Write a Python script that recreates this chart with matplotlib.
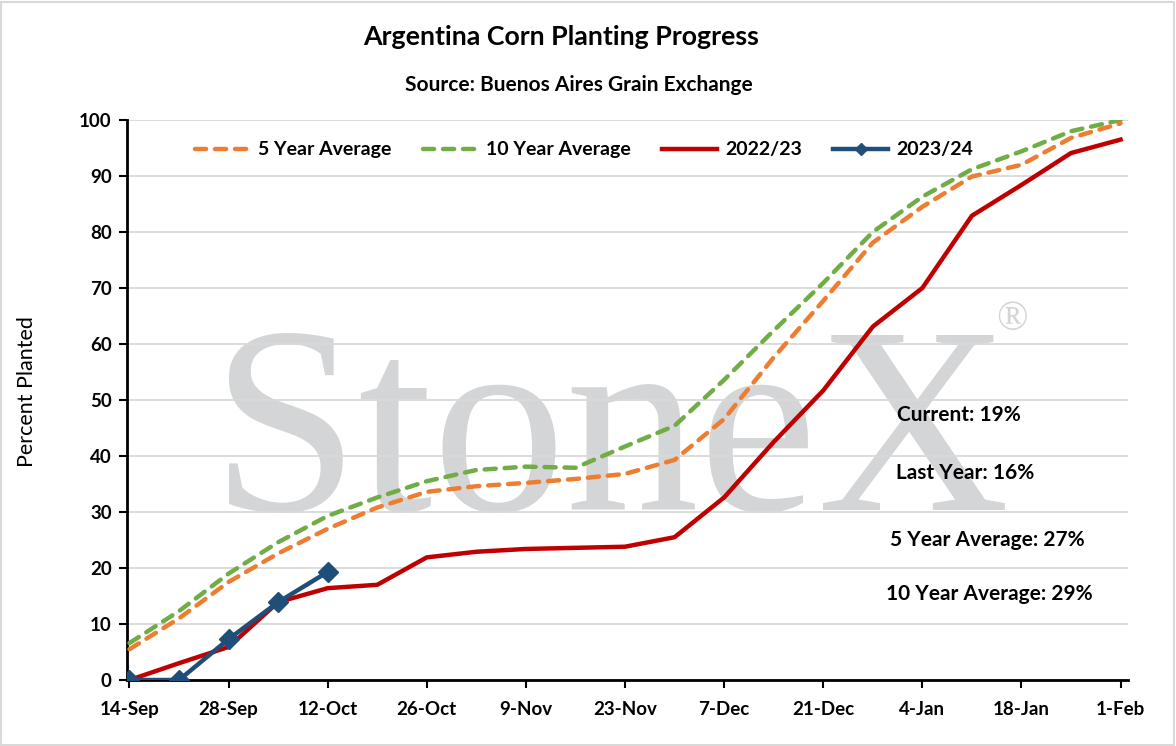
import matplotlib
matplotlib.use("Agg")
import matplotlib.pyplot as plt
from matplotlib.lines import Line2D
from matplotlib.patches import Rectangle

weeks = ["14-Sep", "21-Sep", "28-Sep", "5-Oct", "12-Oct", "19-Oct", "26-Oct", "2-Nov",
         "9-Nov", "16-Nov", "23-Nov", "30-Nov", "7-Dec", "14-Dec", "21-Dec", "28-Dec",
         "4-Jan", "11-Jan", "18-Jan", "25-Jan", "1-Feb"]
avg5 = [5.5, 11.0, 17.5, 22.6, 27.0, 30.8, 33.6, 34.6, 35.2, 35.9, 36.8, 39.3,
        46.6, 57.6, 67.7, 78.1, 84.5, 89.9, 92.0, 96.8, 99.4]
avg10 = [6.6, 12.3, 19.0, 24.6, 29.3, 32.6, 35.5, 37.5, 38.1, 37.9, 41.7, 45.4,
         53.6, 62.4, 70.9, 80.0, 86.3, 91.2, 94.4, 98.0, 100.0]
y2022 = [0.0, 3.0, 5.9, 13.9, 16.4, 17.0, 21.9, 22.9, 23.4, 23.6, 23.8, 25.5,
         32.6, 42.5, 51.7, 63.1, 70.0, 82.9, 88.4, 94.1, 96.5]
y2023 = [0.0, 0.0, 7.3, 13.9, 19.3]
tick_labels = ["14-Sep", "28-Sep", "12-Oct", "26-Oct", "9-Nov", "23-Nov", "7-Dec",
               "21-Dec", "4-Jan", "18-Jan", "1-Feb"]
series_names = ["5 Year Average", "10 Year Average", "2022/23", "2023/24"]
notes = ["Current: 19%", "Last Year: 16%", "5 Year Average: 27%", "10 Year Average: 29%"]

W, H = 1176, 746
fig = plt.figure(figsize=(W / 100, H / 100), dpi=100)
fig.patches.append(Rectangle((1 / W, 1 / H), 1 - 3 / W, 1 - 3 / H, transform=fig.transFigure,
                             fill=False, edgecolor="#d9d9d9", linewidth=1.5))

L, R, T, B = 127, 1128, 120, 680
ax = fig.add_axes([L / W, 1 - B / H, (R - L) / W, (B - T) / H])

x = list(range(len(weeks)))
x23 = x[:len(y2023)]

c5, c10, c22, c23 = "#ed7d31", "#70ad47", "#c00000", "#1f4e79"
LW = 3.2
dash = (0, (2.5, 2.0))
ax.plot(x, avg5, color=c5, lw=LW, ls=dash, dash_capstyle="round", zorder=4)
ax.plot(x, avg10, color=c10, lw=LW, ls=dash, dash_capstyle="round", zorder=3)
ax.plot(x, y2022, color=c22, lw=LW, zorder=5, solid_joinstyle="round")
ax.plot(x23, y2023, color=c23, lw=LW, marker="D", ms=10.5, zorder=6)

ax.set_xlim(-0.05, 20.15)
ax.set_ylim(0, 100)
ax.set_yticks(range(0, 101, 10))
ax.set_xticks(range(0, 21, 2))
ax.set_xticklabels(tick_labels)
ax.grid(axis="y", color="#d9d9d9", lw=1.3, zorder=1)
ax.set_axisbelow(True)
for s in ("top", "right"):
    ax.spines[s].set_visible(False)
for s in ("left", "bottom"):
    ax.spines[s].set_color("black")
    ax.spines[s].set_linewidth(2)
ax.tick_params(axis="both", direction="out", length=6, width=1.5, colors="black",
               labelsize=13.5)
ax.tick_params(axis="x", pad=9)
ax.tick_params(axis="y", pad=5)
for lab in ax.get_xticklabels() + ax.get_yticklabels():
    lab.set_fontweight("bold")
    lab.set_family("Lato")

# watermark (behind gridlines)
ax.text(610 / W, 1 - 510 / H, "StoneX", transform=fig.transFigure, family="Liberation Serif",
        fontsize=192, color="#d4d5d7", ha="center", va="baseline", zorder=0)
ax.text(1012 / W, 1 - 320 / H, "®", transform=fig.transFigure, family="Liberation Serif",
        fontsize=30, color="#d4d5d7", ha="center", va="center", zorder=0)

handles = [
    Line2D([], [], color=c5, lw=LW, ls=dash, dash_capstyle="round"),
    Line2D([], [], color=c10, lw=LW, ls=dash, dash_capstyle="round"),
    Line2D([], [], color=c22, lw=LW),
    Line2D([], [], color=c23, lw=LW, marker="D", ms=6),
]
fig.legend(handles, series_names, loc="center", bbox_to_anchor=(584 / W, 1 - 150 / H),
           ncol=4, frameon=False, handlelength=2.85, columnspacing=1.6, handletextpad=0.4,
           prop={"family": "Lato", "weight": "bold", "size": 14})

fig.text(561 / W, 1 - 37 / H, "Argentina Corn Planting Progress", ha="center", va="center",
         family="Lato", weight="bold", fontsize=19.3)
fig.text(579 / W, 1 - 85 / H, "Source: Buenos Aires Grain Exchange", ha="center", va="center",
         family="Lato", weight="bold", fontsize=15)
fig.text(27 / W, 1 - 392 / H, "Percent Planted", rotation=90, ha="center", va="center",
         family="Lato", fontsize=15.5)

note_pos = [(959, 415), (965, 473), (987, 540), (989, 594)]
for t, (px, py) in zip(notes, note_pos):
    fig.text(px / W, 1 - py / H, t, ha="center", va="center", family="Lato",
             weight="bold", fontsize=15)

fig.savefig("out.png", dpi=100)
